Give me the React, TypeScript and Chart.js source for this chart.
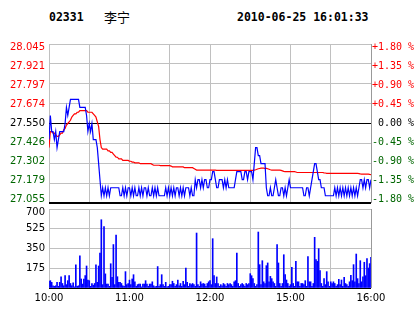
import React, { useEffect, useRef } from 'react';
import { Chart, registerables } from 'chart.js';

Chart.register(...registerables);

const stockCode = '02331';
const stockName = '李宁';
const stampText = '2010-06-25 16:01:33';

const timeLabels = ['10:00', '11:00', '12:00', '15:00', '16:00'];
const gridMinutes = [0, 30, 60, 90, 120, 150, 180, 210, 240];
const priceTicks = [27.055, 27.179, 27.302, 27.426, 27.55, 27.674, 27.797, 27.921, 28.045];
const pctTicks = [-1.8, -1.35, -0.9, -0.45, 0, 0.45, 0.9, 1.35, 1.8];
const volumeTicks = [0, 175, 350, 525, 700];
const prevClose = 27.55;

// last price, one value per trading minute (10:00-12:30, 14:30-16:00)
const priceValues = [
  27.45, 27.60, 27.50, 27.50, 27.45, 27.50, 27.40, 27.45, 27.50, 27.50,
  27.50, 27.50, 27.55, 27.65, 27.60, 27.65, 27.70, 27.70, 27.70, 27.70,
  27.70, 27.70, 27.70, 27.65, 27.65, 27.65, 27.65, 27.65, 27.60, 27.50,
  27.55, 27.50, 27.55, 27.45, 27.45, 27.45, 27.40, 27.30, 27.20, 27.10,
  27.15, 27.10, 27.15, 27.10, 27.15, 27.10, 27.15, 27.15, 27.15, 27.15,
  27.15, 27.15, 27.15, 27.10, 27.10, 27.15, 27.10, 27.15, 27.10, 27.15,
  27.15, 27.10, 27.15, 27.10, 27.15, 27.10, 27.10, 27.15, 27.10, 27.15,
  27.10, 27.15, 27.15, 27.10, 27.15, 27.10, 27.10, 27.15, 27.10, 27.15,
  27.10, 27.15, 27.10, 27.10, 27.10, 27.10, 27.10, 27.15, 27.10, 27.15,
  27.10, 27.15, 27.10, 27.15, 27.10, 27.15, 27.15, 27.10, 27.15, 27.10,
  27.15, 27.10, 27.15, 27.15, 27.15, 27.10, 27.15, 27.10, 27.10, 27.20,
  27.15, 27.20, 27.20, 27.15, 27.20, 27.15, 27.20, 27.20, 27.15, 27.15,
  27.20, 27.20, 27.25, 27.25, 27.20, 27.15, 27.15, 27.20, 27.20, 27.20,
  27.15, 27.20, 27.15, 27.20, 27.15, 27.15, 27.15, 27.15, 27.15, 27.20,
  27.25, 27.25, 27.25, 27.25, 27.20, 27.20, 27.25, 27.25, 27.20, 27.25,
  27.25, 27.25, 27.20, 27.30, 27.40, 27.40, 27.35, 27.35, 27.30, 27.30,
  27.30, 27.30, 27.15, 27.10, 27.10, 27.15, 27.10, 27.10, 27.15, 27.20,
  27.15, 27.10, 27.10, 27.15, 27.15, 27.10, 27.15, 27.10, 27.15, 27.20,
  27.15, 27.15, 27.15, 27.15, 27.15, 27.15, 27.15, 27.15, 27.15, 27.15,
  27.10, 27.10, 27.15, 27.15, 27.10, 27.15, 27.20, 27.25, 27.30, 27.30,
  27.25, 27.20, 27.20, 27.15, 27.15, 27.15, 27.10, 27.10, 27.10, 27.10,
  27.10, 27.10, 27.10, 27.15, 27.10, 27.15, 27.10, 27.15, 27.10, 27.15,
  27.10, 27.15, 27.10, 27.15, 27.10, 27.15, 27.10, 27.15, 27.10, 27.15,
  27.10, 27.15, 27.20, 27.20, 27.15, 27.20, 27.15, 27.20, 27.20, 27.15,
  27.20,
];

// average price line
const avgValues = [
  27.40, 27.50, 27.50, 27.49, 27.49, 27.48, 27.47, 27.47, 27.48, 27.49,
  27.49, 27.51, 27.52, 27.54, 27.55, 27.56, 27.57, 27.59, 27.60, 27.61,
  27.61, 27.62, 27.62, 27.63, 27.63, 27.63, 27.63, 27.63, 27.63, 27.62,
  27.62, 27.62, 27.62, 27.61, 27.60, 27.59, 27.56, 27.53, 27.45, 27.40,
  27.39, 27.39, 27.39, 27.39, 27.38, 27.38, 27.37, 27.37, 27.36, 27.35,
  27.34, 27.34, 27.33, 27.33, 27.33, 27.32, 27.32, 27.32, 27.32, 27.32,
  27.315, 27.315, 27.31, 27.31, 27.305, 27.305, 27.305, 27.305, 27.30, 27.30,
  27.30, 27.30, 27.30, 27.30, 27.30, 27.30, 27.30, 27.295, 27.29, 27.29,
  27.29, 27.29, 27.29, 27.288, 27.288, 27.288, 27.288, 27.288, 27.288, 27.288,
  27.288, 27.285, 27.28, 27.28, 27.28, 27.28, 27.28, 27.28, 27.28, 27.28,
  27.28, 27.275, 27.275, 27.275, 27.275, 27.275, 27.275, 27.275, 27.27, 27.265,
  27.26, 27.26, 27.26, 27.26, 27.26, 27.26, 27.26, 27.26, 27.26, 27.26,
  27.26, 27.26, 27.26, 27.26, 27.26, 27.258, 27.258, 27.258, 27.258, 27.258,
  27.258, 27.258, 27.258, 27.258, 27.258, 27.258, 27.258, 27.258, 27.258, 27.258,
  27.258, 27.258, 27.258, 27.258, 27.258, 27.258, 27.258, 27.258, 27.258, 27.258,
  27.258, 27.258, 27.258, 27.26, 27.262, 27.265, 27.268, 27.27, 27.272, 27.272,
  27.272, 27.27, 27.27, 27.268, 27.265, 27.262, 27.26, 27.26, 27.26, 27.26,
  27.26, 27.26, 27.26, 27.258, 27.255, 27.252, 27.25, 27.25, 27.25, 27.25,
  27.25, 27.25, 27.25, 27.25, 27.248, 27.245, 27.245, 27.245, 27.245, 27.245,
  27.245, 27.245, 27.245, 27.245, 27.245, 27.245, 27.245, 27.245, 27.245, 27.245,
  27.245, 27.245, 27.245, 27.245, 27.245, 27.243, 27.242, 27.24, 27.24, 27.24,
  27.24, 27.24, 27.24, 27.24, 27.24, 27.24, 27.24, 27.24, 27.24, 27.24,
  27.24, 27.24, 27.24, 27.24, 27.24, 27.24, 27.24, 27.24, 27.24, 27.24,
  27.24, 27.238, 27.236, 27.235, 27.235, 27.235, 27.235, 27.235, 27.235, 27.233,
  27.232,
];

// volume per minute
const volumeValues = [
  60, 65, 50, 20, 15, 20, 50, 15, 50, 100,
  40, 20, 110, 30, 65, 110, 40, 20, 45, 10,
  205, 15, 20, 285, 80, 35, 80, 110, 195, 70,
  65, 15, 40, 25, 40, 205, 50, 195, 310, 605,
  30, 545, 125, 35, 35, 15, 215, 95, 385, 30,
  470, 100, 50, 50, 40, 20, 15, 145, 30, 40,
  70, 30, 80, 118, 55, 15, 30, 35, 35, 10,
  35, 35, 65, 35, 15, 35, 35, 55, 20, 10,
  15, 190, 15, 30, 118, 30, 15, 50, 10, 15,
  30, 30, 60, 40, 15, 30, 70, 20, 40, 15,
  60, 30, 177, 50, 15, 40, 30, 40, 30, 15,
  487, 30, 15, 55, 35, 40, 35, 15, 40, 55,
  65, 30, 437, 109, 40, 98, 40, 15, 30, 20,
  40, 30, 15, 40, 30, 40, 30, 15, 55, 65,
  310, 40, 15, 30, 40, 30, 15, 40, 30, 40,
  127, 109, 83, 40, 15, 30, 496, 207, 30, 242,
  55, 40, 198, 222, 55, 103, 83, 55, 40, 15,
  384, 222, 40, 15, 40, 295, 118, 71, 40, 15,
  30, 183, 40, 15, 236, 55, 55, 15, 40, 40,
  30, 65, 15, 278, 55, 55, 15, 40, 449, 251,
  236, 349, 154, 40, 15, 83, 30, 145, 55, 15,
  55, 40, 55, 40, 15, 30, 77, 30, 71, 15,
  95, 40, 30, 15, 55, 112, 65, 207, 55, 301,
  83, 40, 242, 55, 98, 228, 109, 260, 177, 216,
  272,
];

const GRID = '#c0c0c0';
const RED = '#ff0000';
const GREEN = '#006600';
const SANS = "'DejaVu Sans', Verdana, sans-serif";
const MONO = "'DejaVu Sans Mono', monospace";

const setTicks = (arr: number[]) => (axis: any) => {
  axis.ticks = arr.map((v) => ({ value: v }));
};

const fixWidth = (w: number) => (s: any) => {
  s.width = w;
  s.paddingTop = 0;
  s.paddingBottom = 0;
};

export default function App() {
  const priceRef = useRef<HTMLCanvasElement | null>(null);
  const volRef = useRef<HTMLCanvasElement | null>(null);

  useEffect(() => {
    if (!priceRef.current || !volRef.current) return;

    const xGridColor = (ctx: any) => (ctx.tick && ctx.tick.value === 240 ? '#999999' : GRID);

    const priceChart = new Chart(priceRef.current, {
      type: 'line',
      data: {
        datasets: [
          {
            data: priceValues.map((v, i) => ({ x: i, y: v })),
            borderColor: '#0000ff',
            borderWidth: 1.2,
            pointRadius: 0,
            yAxisID: 'y',
            order: 0,
          },
          {
            data: avgValues.map((v, i) => ({ x: i, y: v })),
            borderColor: RED,
            borderWidth: 1.2,
            pointRadius: 0,
            yAxisID: 'y',
            order: 1,
          },
        ],
      },
      options: {
        animation: false,
        responsive: false,
        events: [],
        layout: { padding: { top: 44, bottom: 5, left: 0, right: 0 } },
        plugins: { legend: { display: false }, tooltip: { enabled: false } },
        scales: {
          x: {
            type: 'linear',
            min: 0,
            max: 240,
            afterBuildTicks: setTicks(gridMinutes),
            ticks: { display: false },
            grid: { color: xGridColor, drawTicks: false },
            border: { display: false },
          },
          y: {
            position: 'left',
            min: priceTicks[0],
            max: priceTicks[priceTicks.length - 1],
            afterBuildTicks: setTicks(priceTicks),
            ticks: { display: false },
            grid: {
              drawTicks: false,
              color: (ctx: any) => (ctx.index === 0 || ctx.index === 4 ? '#000000' : GRID),
              lineWidth: (ctx: any) => (ctx.index === 0 ? 2 : 1),
            },
            border: { display: false },
            afterFit: fixWidth(0),
          },
          yl: {
            position: 'left',
            min: 27.0322,
            max: 28.0678,
            afterBuildTicks: setTicks(priceTicks),
            ticks: {
              font: { family: SANS, size: 10 },
              padding: 4,
              color: (ctx: any) => {
                const v = ctx.tick.value;
                if (Math.abs(v - prevClose) < 1e-6) return '#000000';
                return v > prevClose ? RED : GREEN;
              },
              callback: (v: any) => Number(v).toFixed(3),
            },
            grid: { display: false, drawTicks: false },
            border: { display: false },
            afterFit: fixWidth(49),
          },
          yr: {
            position: 'right',
            min: -1.8829,
            max: 1.8829,
            afterBuildTicks: setTicks(pctTicks),
            ticks: {
              font: { family: MONO, size: 10 },
              padding: 1,
              color: (ctx: any) => {
                const v = ctx.tick.value;
                if (Math.abs(v) < 1e-6) return '#000000';
                return v > 0 ? RED : GREEN;
              },
              callback: (v: any) => {
                const n = Number(v);
                if (Math.abs(n) < 1e-6) return ' 0.00 %';
                return (n > 0 ? '+' : '') + n.toFixed(2) + ' %';
              },
            },
            grid: { display: false, drawTicks: false },
            border: { display: false },
            afterFit: fixWidth(43),
          },
        },
      },
    } as any);

    const volChart = new Chart(volRef.current, {
      type: 'bar',
      data: {
        datasets: [
          {
            data: volumeValues.map((v, i) => ({ x: i, y: v })),
            backgroundColor: '#0000ff',
            borderWidth: 0,
            barThickness: 1,
          },
        ],
      },
      options: {
        animation: false,
        responsive: false,
        events: [],
        layout: { padding: { top: 5, bottom: 0, left: 0, right: 43 } },
        plugins: { legend: { display: false }, tooltip: { enabled: false } },
        scales: {
          x: {
            type: 'linear',
            min: 0,
            max: 240,
            offset: false,
            afterBuildTicks: setTicks(gridMinutes),
            ticks: {
              autoSkip: false,
              maxRotation: 0,
              padding: 4,
              color: '#000000',
              font: { family: SANS, size: 10 },
              callback: (v: any) => (Number(v) % 60 === 0 ? timeLabels[Number(v) / 60] : ''),
            },
            grid: { color: xGridColor, drawTicks: false, offset: false },
            border: { display: false },
            afterFit: (s: any) => {
              s.height = 26;
              s.paddingLeft = 0;
              s.paddingRight = 0;
            },
          },
          y: {
            position: 'left',
            min: 0,
            max: 700,
            afterBuildTicks: setTicks(volumeTicks),
            ticks: {
              padding: 4,
              color: '#000000',
              font: (ctx: any) =>
                ctx.index === volumeTicks.length - 1
                  ? { family: SANS, size: 10, lineHeight: '7.4px' }
                  : { family: SANS, size: 10 },
              callback: (v: any) => {
                const n = Number(v);
                if (n === 0) return '';
                if (n === 700) return ['', '700'];
                return String(n);
              },
            },
            grid: {
              drawTicks: false,
              color: (ctx: any) => (ctx.index === 0 ? '#000000' : GRID),
            },
            border: { display: false },
            afterFit: fixWidth(49),
          },
        },
      },
    } as any);

    return () => {
      priceChart.destroy();
      volChart.destroy();
    };
  }, []);

  const titleStyle: React.CSSProperties = {
    position: 'absolute',
    top: 10,
    fontFamily: MONO,
    fontWeight: 'bold',
    fontSize: 11.5,
    lineHeight: '14px',
    color: '#000',
    whiteSpace: 'pre',
  };

  return (
    <div style={{ position: 'absolute', left: 0, top: 0, width: 414, height: 314, background: '#fff', overflow: 'hidden' }}>
      <span style={{ ...titleStyle, left: 49 }}>{stockCode}</span>
      <span
        style={{
          ...titleStyle,
          left: 104,
          fontWeight: 'normal',
          fontSize: 13,
          fontFamily: "'Noto Sans CJK SC', sans-serif",
          top: 8,
          lineHeight: '17px',
        }}
      >
        {stockName}
      </span>
      <span style={{ ...titleStyle, left: 237 }}>{stampText}</span>
      <canvas ref={priceRef} width={414} height={208} style={{ position: 'absolute', left: 0, top: 0, width: 414, height: 208 }} />
      <canvas ref={volRef} width={414} height={110} style={{ position: 'absolute', left: 0, top: 204, width: 414, height: 110 }} />
    </div>
  );
}
